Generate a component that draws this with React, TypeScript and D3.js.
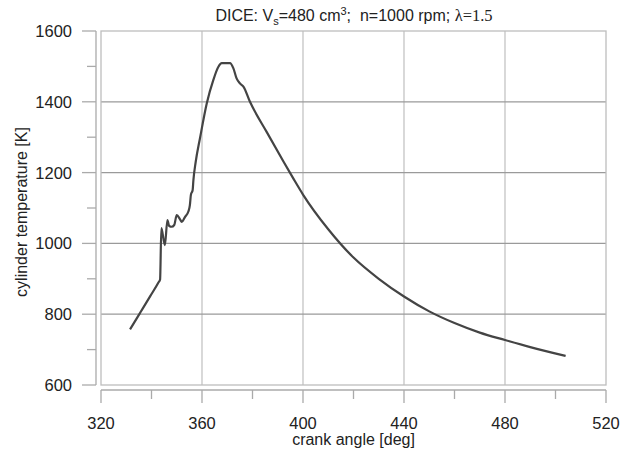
import React, { useEffect, useRef } from 'react';
import * as d3 from 'd3';

// crank angle [deg] and cylinder temperature [K]
const crankAngle = [
  331.5, 335.5, 339.5, 342.8, 343.4, 343.9, 345.3, 346.3, 347.0, 348.0, 349.0,
  350.0, 351.3, 352.0, 353.3, 354.6, 355.2, 355.6, 356.3, 356.6, 357.5, 359.2,
  361.9, 364.5, 366.5, 367.8, 371.1, 372.4, 373.7, 375.0, 376.4, 379.0, 385.6,
  392.2, 396.2, 400, 410, 420, 430, 440, 450, 460, 470, 480, 490, 504
];
const temperature = [
  757, 804, 851, 890, 898, 1043, 995, 1066, 1049, 1047, 1052,
  1080, 1068, 1061, 1075, 1090, 1108, 1137, 1151, 1179, 1230, 1297,
  1396, 1462, 1499, 1509, 1509, 1495, 1466, 1452, 1443, 1400, 1315,
  1232, 1183, 1138, 1040, 960, 900, 850, 808, 775, 748, 727, 707, 682
];

const xTicks = [320, 360, 400, 440, 480, 520];
const xMinorTicks = [340, 380, 420, 460, 500];
const yTicks = [600, 800, 1000, 1200, 1400, 1600];
const yMinorTicks = [700, 900, 1100, 1300, 1500];

const App = () => {
  const svgRef = useRef(null);

  useEffect(() => {
    const width = 629;
    const height = 455;
    const left = 101, right = 606, top = 31, bottom = 385;
    const font = 'Arial, "Liberation Sans", sans-serif';

    const svg = d3.select(svgRef.current);
    svg.selectAll('*').remove();
    svg.attr('width', width).attr('height', height);

    svg.append('rect').attr('width', width).attr('height', height).attr('fill', '#fff');

    const x = d3.scaleLinear().domain([320, 520]).range([left, right]);
    const y = d3.scaleLinear().domain([600, 1600]).range([bottom, top]);

    // grid
    svg.selectAll('.vgrid')
      .data(xTicks.slice(1, -1))
      .enter().append('line')
      .attr('x1', d => x(d)).attr('x2', d => x(d))
      .attr('y1', top).attr('y2', bottom)
      .attr('stroke', '#c4c4c4').attr('stroke-width', 1.3);

    svg.selectAll('.hgrid')
      .data(yTicks.slice(1, -1))
      .enter().append('line')
      .attr('x1', left).attr('x2', right)
      .attr('y1', d => y(d)).attr('y2', d => y(d))
      .attr('stroke', '#9a9a9a').attr('stroke-width', 1.2);

    // plot frame
    svg.append('rect')
      .attr('x', left).attr('y', top)
      .attr('width', right - left).attr('height', bottom - top)
      .attr('fill', 'none').attr('stroke', '#bdbdbd').attr('stroke-width', 1.3);

    // y axis (offset)
    const yAxisX = 96;
    svg.append('line')
      .attr('x1', yAxisX).attr('x2', yAxisX).attr('y1', top).attr('y2', bottom)
      .attr('stroke', '#aaa').attr('stroke-width', 1.3);
    svg.selectAll('.ytick')
      .data(yTicks)
      .enter().append('line')
      .attr('x1', yAxisX - 14).attr('x2', yAxisX)
      .attr('y1', d => y(d)).attr('y2', d => y(d))
      .attr('stroke', '#aaa').attr('stroke-width', 1.3);
    svg.selectAll('.yminor')
      .data(yMinorTicks)
      .enter().append('line')
      .attr('x1', yAxisX - 9).attr('x2', yAxisX)
      .attr('y1', d => y(d)).attr('y2', d => y(d))
      .attr('stroke', '#aaa').attr('stroke-width', 1.3);
    svg.selectAll('.ylabel')
      .data(yTicks)
      .enter().append('text')
      .attr('x', 72).attr('y', d => y(d) + 6)
      .attr('text-anchor', 'end')
      .attr('font-family', font).attr('font-size', 16.5).attr('fill', '#222')
      .text(d => d);

    // x axis (offset)
    const xAxisY = 390;
    svg.append('line')
      .attr('x1', left).attr('x2', right).attr('y1', xAxisY).attr('y2', xAxisY)
      .attr('stroke', '#aaa').attr('stroke-width', 1.3);
    svg.selectAll('.xtick')
      .data(xTicks)
      .enter().append('line')
      .attr('x1', d => x(d)).attr('x2', d => x(d))
      .attr('y1', xAxisY).attr('y2', xAxisY + 13)
      .attr('stroke', '#aaa').attr('stroke-width', 1.3);
    svg.selectAll('.xminor')
      .data(xMinorTicks)
      .enter().append('line')
      .attr('x1', d => x(d)).attr('x2', d => x(d))
      .attr('y1', xAxisY).attr('y2', xAxisY + 9)
      .attr('stroke', '#aaa').attr('stroke-width', 1.3);
    svg.selectAll('.xlabel')
      .data(xTicks)
      .enter().append('text')
      .attr('x', d => x(d)).attr('y', 429)
      .attr('text-anchor', 'middle')
      .attr('font-family', font).attr('font-size', 16.5).attr('fill', '#222')
      .text(d => d);

    // axis titles
    svg.append('text')
      .attr('x', (left + right) / 2).attr('y', 445)
      .attr('text-anchor', 'middle')
      .attr('font-family', font).attr('font-size', 16).attr('fill', '#222')
      .text('crank angle [deg]');
    svg.append('text')
      .attr('transform', 'translate(27,212) rotate(-90)')
      .attr('text-anchor', 'middle')
      .attr('font-family', font).attr('font-size', 16).attr('fill', '#222')
      .text('cylinder temperature [K]');

    // title
    const title = svg.append('text')
      .attr('x', 354).attr('y', 21)
      .attr('text-anchor', 'middle')
      .attr('font-family', font).attr('font-size', 16).attr('fill', '#222');
    title.append('tspan').text('DICE: V');
    title.append('tspan').attr('font-size', 11).attr('dy', 4).text('s');
    title.append('tspan').attr('dy', -4).text('=480 cm');
    title.append('tspan').attr('font-size', 11).attr('dy', -6).text('3');
    title.append('tspan').attr('dy', 6).text(';\u00a0 n=1000 rpm; ');
    title.append('tspan')
      .attr('font-family', '"Liberation Serif", "Times New Roman", serif')
      .attr('font-size', 16.5)
      .text('λ=1.5');

    // curve
    const points = crankAngle.map((a, i) => [a, temperature[i]]);
    const line = d3.line()
      .x(d => x(d[0]))
      .y(d => y(d[1]))
      .curve(d3.curveMonotoneX);

    svg.append('path')
      .datum(points)
      .attr('d', line)
      .attr('fill', 'none')
      .attr('stroke', '#444')
      .attr('stroke-width', 2.2)
      .attr('stroke-linejoin', 'round');
  }, []);

  return (
    <svg ref={svgRef} style={{ position: 'absolute', left: 0, top: 0, display: 'block' }}></svg>
  );
};

export default App;
